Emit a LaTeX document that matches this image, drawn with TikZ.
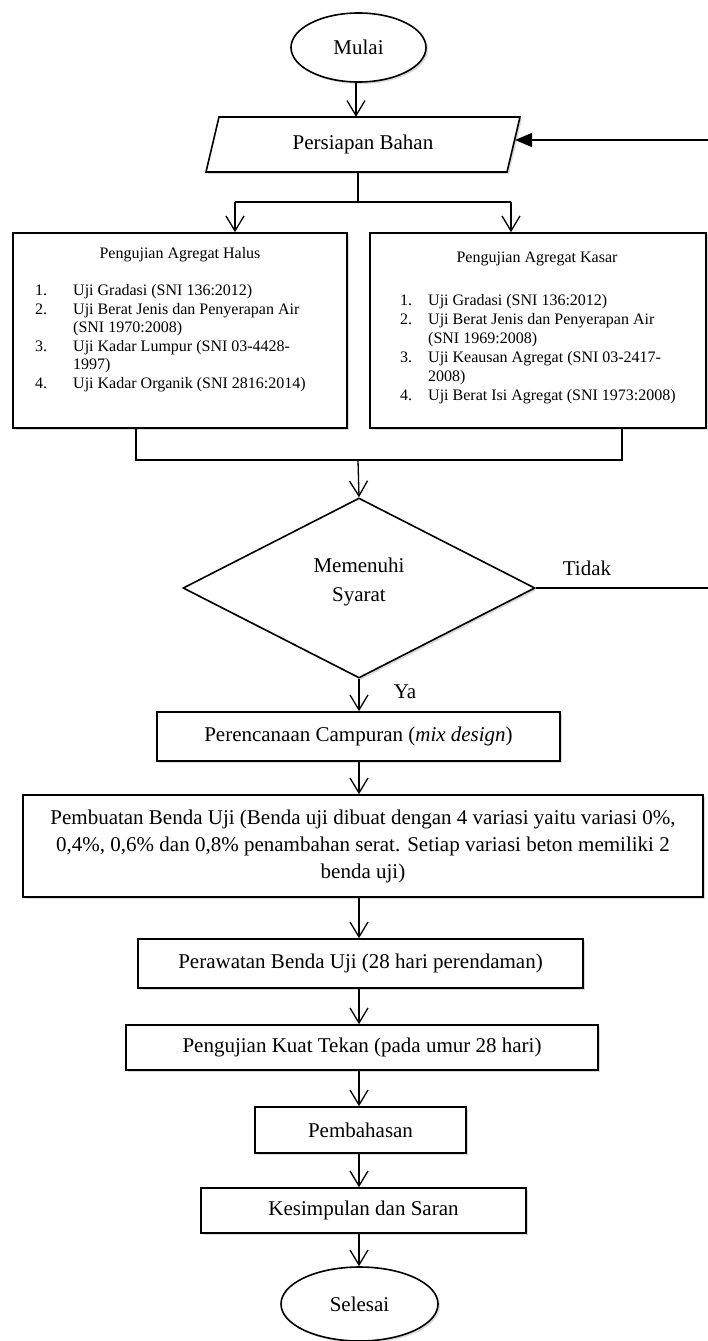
\documentclass[tikz,border=0pt]{standalone}
\usepackage{fontspec}
\setmainfont{Liberation Serif}
\usetikzlibrary{shapes.geometric,arrows.meta,shadows,calc}
\begin{document}
\begin{tikzpicture}[x=1pt,y=-1pt,
  shad/.style={drop shadow={shadow xshift=2pt,shadow yshift=-2pt,opacity=0.3}},
  box/.style={draw,line width=1.6pt,rectangle,inner sep=0pt,align=center,
    font=\fontsize{21}{27}\selectfont,fill=white,shad},
  term/.style={draw,line width=1.6pt,ellipse,inner sep=0pt,
    font=\fontsize{21}{27}\selectfont,fill=white,shad},
  lbl/.style={inner sep=0pt,font=\fontsize{21}{29}\selectfont,align=center},
  small/.style={inner sep=0pt,font=\fontsize{16}{18.5}\selectfont},
  smallb/.style={inner sep=0pt,font=\fontsize{16}{19}\selectfont},
  conn/.style={line width=1.3pt},
  arr/.style={line width=1.3pt,-{Straight Barb[length=15pt,width=18pt,line width=1.3pt]}},
  farr/.style={line width=1.3pt,-{Triangle[length=17pt,width=14pt]}}
]
\useasboundingbox (0,0) rectangle (707,1341);

% start
\node[term,minimum width=135,minimum height=69] (mulai) at (358.5,47.5) {Mulai};

% Persiapan Bahan (parallelogram)
\draw[line width=1.6pt,fill=white,shad] (219,117) -- (520,117) -- (507,172) -- (206,172) -- cycle;
\node[inner sep=0pt,minimum width=301,minimum height=55,font=\fontsize{21}{27}\selectfont] (persiapan) at (363,144.5) {Persiapan Bahan};

% test boxes
\node[box,minimum width=334,minimum height=195] (halus) at (180,330.5) {};
\node[box,minimum width=336,minimum height=195] (kasar) at (538,330.5) {};
\node[small,anchor=base] (halusT) at (180,258.5) {Pengujian Agregat Halus};
\node[small,anchor=base west] (halusL) at (35,295.6) {\begin{tabular}[t]{@{}p{38pt}@{}l@{}}
1. & Uji Gradasi (SNI 136:2012)\\
2. & Uji Berat Jenis dan Penyerapan Air\\
   & (SNI 1970:2008)\\
3. & Uji Kadar Lumpur (SNI 03-4428-\\
   & 1997)\\
4. & Uji Kadar Organik (SNI 2816:2014)
\end{tabular}};
\node[smallb,anchor=base] (kasarT) at (537,262.5) {Pengujian Agregat Kasar};
\node[smallb,anchor=base west] (kasarL) at (400,305.6) {\begin{tabular}[t]{@{}p{28pt}@{}l@{}}
1. & Uji Gradasi (SNI 136:2012)\\
2. & Uji Berat Jenis dan Penyerapan Air\\
   & (SNI 1969:2008)\\
3. & Uji Keausan Agregat (SNI 03-2417-\\
   & 2008)\\
4. & Uji Berat Isi Agregat (SNI 1973:2008)
\end{tabular}};

% decision
\node[draw,diamond,line width=1.6pt,fill=white,shad,inner sep=0pt,minimum width=352,minimum height=180] (syarat) at (359,588) {};
\node[lbl] (syaratT) at (359,582) {Memenuhi\\Syarat};
\node[lbl] (tidak) at (587,568) {Tidak};
\node[lbl] (ya) at (405,692) {Ya};

% process boxes
\node[box,minimum width=403,minimum height=49] (rencana) at (358.5,736.5) {Perencanaan Campuran (\textit{mix design})};
\node[box,minimum width=680,minimum height=102] (buat) at (363,846) {Pembuatan Benda Uji (Benda uji dibuat dengan 4 variasi yaitu variasi 0\%,\\0,4\%, 0,6\% dan 0,8\% penambahan serat. Setiap variasi beton memiliki 2\\benda uji)};
\node[box,minimum width=445,minimum height=49] (rawat) at (360.5,963.5) {Perawatan Benda Uji (28 hari perendaman)};
\node[box,minimum width=472,minimum height=45] (tekan) at (362,1047.5) {Pengujian Kuat Tekan (pada umur 28 hari)};
\node[box,minimum width=211,minimum height=46] (bahas) at (360.5,1130) {Pembahasan};
\node[box,minimum width=325,minimum height=45] (simpul) at (363.5,1210.5) {Kesimpulan dan Saran};
\node[term,minimum width=157,minimum height=74] (selesai) at (359.5,1304) {Selesai};

% junction coordinates
\coordinate (j1) at (358,202);
\coordinate (jl) at (235,202);
\coordinate (jr) at (511,202);
\coordinate (hb) at (136,460);
\coordinate (kb) at (622,460);
\coordinate (j2) at (358,460);
\coordinate (lpR) at (716,588);
\coordinate (lpT) at (716,140);
\coordinate (pin) at (515,140);

% connectors
\draw[arr] (356,0 |- mulai.south) -- (356,0 |- persiapan.north);
\draw[conn] (j1 |- persiapan.south) -- (j1);
\draw[conn] (jl) -- (jr);
\draw[arr] (jl) -- (jl |- halus.north);
\draw[arr] (jr) -- (jr |- kasar.north);
\draw[conn] (hb |- halus.south) -- (hb) -- (kb) -- (kb |- kasar.south);
\draw[arr] (j2) -- (syarat.north);
\draw[arr] (syarat.south) -- (syarat.south |- rencana.north);
\draw[conn] (syarat.east) -- (lpR) -- (lpT);
\draw[farr] (lpT) -- (pin);
\draw[arr] (rencana.south -| syarat.south) -- (syarat.south |- buat.north);
\draw[arr] (buat.south -| syarat.south) -- (syarat.south |- rawat.north);
\draw[arr] (rawat.south -| syarat.south) -- (syarat.south |- tekan.north);
\draw[arr] (tekan.south -| syarat.south) -- (syarat.south |- bahas.north);
\draw[arr] (bahas.south -| syarat.south) -- (syarat.south |- simpul.north);
\draw[arr] (simpul.south -| syarat.south) -- (syarat.south |- selesai.north);
\end{tikzpicture}
\end{document}
